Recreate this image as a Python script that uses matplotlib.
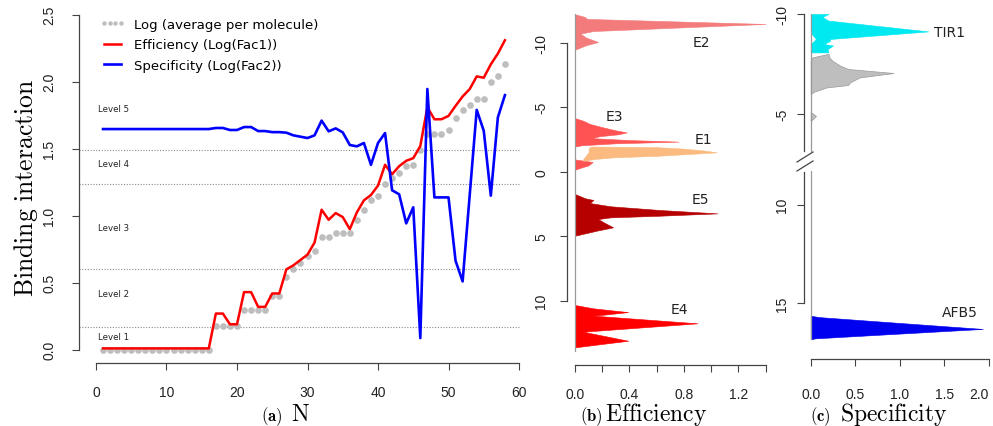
import numpy as np
import matplotlib
matplotlib.use('Agg')
import matplotlib.pyplot as plt
from matplotlib.lines import Line2D
from matplotlib.transforms import ScaledTranslation

plt.rcParams['font.family'] = 'DejaVu Sans'
plt.rcParams['mathtext.fontset'] = 'cm'
plt.rcParams['axes.unicode_minus'] = False

# ---------------- panel (a): binding interaction vs N ----------------
n_mol = list(range(1, 59))
log_avg = [0.0] * 16 + [0.175, 0.175, 0.175, 0.175, 0.30, 0.30, 0.30, 0.30,
           0.40, 0.40, 0.54, 0.60, 0.65, 0.70, 0.74, 0.84, 0.84, 0.87, 0.87,
           0.87, 0.97, 1.04, 1.12, 1.145, 1.24, 1.28, 1.32, 1.37, 1.38, 1.49,
           1.61, 1.61, 1.61, 1.64, 1.73, 1.79, 1.83, 1.87, 1.875, 2.0, 2.045,
           2.13]
eff_log = [0.01] * 16 + [0.27, 0.27, 0.19, 0.19, 0.43, 0.43, 0.32, 0.32,
           0.42, 0.42, 0.60, 0.63, 0.67, 0.71, 0.80, 1.045, 0.97, 1.02, 0.99,
           0.90, 1.025, 1.115, 1.155, 1.225, 1.38, 1.31, 1.37, 1.41, 1.43,
           1.52, 1.81, 1.72, 1.72, 1.745, 1.82, 1.89, 1.945, 2.04, 2.03, 2.13,
           2.21, 2.31]
spec_log = [1.647] * 16 + [1.655, 1.655, 1.64, 1.64, 1.662, 1.662, 1.632,
            1.632, 1.624, 1.624, 1.62, 1.60, 1.59, 1.58, 1.60, 1.71, 1.63,
            1.652, 1.622, 1.528, 1.518, 1.543, 1.38, 1.543, 1.617, 1.19, 1.16,
            0.943, 1.063, 0.087, 1.946, 1.137, 1.137, 1.137, 0.664, 0.51,
            1.15, 1.79, 1.634, 1.15, 1.734, 1.90]
level_bounds = [0.17, 0.60, 1.24, 1.49]
level_names = ['Level 1', 'Level 2', 'Level 3', 'Level 4', 'Level 5']
level_text_y = [0.10, 0.42, 0.91, 1.39, 1.80]

# ---------------- panel (b): efficiency profiles ----------------
e2_y = [-12.2, -12.0, -11.84, -11.45, -10.9, -10.7, -10.4, -10.05, -9.8, -9.45]
e2_x = [0.0, 0.07, 0.09, 1.4, 0.135, 0.04, 0.08, 0.17, 0.08, 0.0]
e3_y = [-4.15, -3.95, -3.7, -3.45, -3.2, -3.05, -2.9, -2.75, -2.6, -2.45,
        -2.33, -2.2, -2.05, -1.95, -0.95, -0.75, -0.5, -0.3, -0.15]
e3_x = [0.0, 0.06, 0.11, 0.2, 0.3, 0.38, 0.32, 0.18, 0.12, 0.4, 0.76, 0.3,
        0.05, 0.0, 0.0, 0.13, 0.1, 0.04, 0.0]
e1_y = [-1.95, -1.9, -1.8, -1.65, -1.5, -1.38, -1.24, -1.11, -0.98, -0.85]
e1_left = [0.12, 0.11, 0.1, 0.1, 0.1, 0.09, 0.08, 0.07, 0.06, 0.06]
e1_right = [0.13, 0.6, 0.78, 0.94, 1.04, 0.85, 0.62, 0.28, 0.14, 0.07]
e5_y = [1.73, 2.06, 2.19, 2.43, 2.68, 2.97, 3.23, 3.41, 3.54, 3.67, 3.92,
        4.31, 4.57, 4.96]
e5_x = [0.0, 0.074, 0.135, 0.11, 0.26, 0.625, 1.046, 0.625, 0.26, 0.17, 0.21,
        0.28, 0.16, 0.0]
e4_y = [10.33, 10.59, 10.88, 11.16, 11.75, 12.40, 13.10, 13.61]
e4_x = [0.0, 0.135, 0.39, 0.14, 0.90, 0.06, 0.39, 0.0]

# ---------------- panel (c): specificity profiles ----------------
tir1_y = [-10.0, -9.85, -9.67, -9.4, -9.13, -8.95, -8.75, -8.67, -8.5, -8.42,
          -8.25, -8.08]
tir1_left = [0.0, 0.0, 0.0, 0.0, 0.0, 0.02, 0.06, 0.04, 0.0, 0.0, 0.0, 0.0]
tir1_right = [0.2, 0.13, 0.2, 0.76, 1.32, 0.8, 0.217, 0.22, 0.15, 0.25, 0.19,
              0.2]
grey_y = [-8.0, -7.83, -7.67, -7.42, -7.25, -7.05, -6.83, -6.58, -6.45, -6.33,
          -6.12, -6.0]
grey_left = [0.19, 0.02, 0, 0, 0, 0, 0, 0, 0, 0, 0, 0]
grey_right = [0.2, 0.21, 0.24, 0.33, 0.42, 0.93, 0.55, 0.44, 0.42, 0.18, 0.04,
              0.0]
grey2_y = [-5.1, -4.9, -4.65]
grey2_x = [0.0, 0.06, 0.0]
afb5_y = [15.65, 15.72, 16.0, 16.32, 16.6, 16.8, 16.85]
afb5_x = [0.0, 0.1, 0.95, 1.93, 0.83, 0.05, 0.0]

W, H = 993.0, 427.0
def fbox(l, t, r, b):
    return [l / W, 1 - b / H, (r - l) / W, (b - t) / H]

spine_col = '#444444'
tick_font = dict(fontfamily='Liberation Sans', fontsize=10, color='#222222')

fig = plt.figure(figsize=(9.93, 4.27), dpi=100)

def style(ax, sides=('left', 'bottom')):
    for s in ['top', 'right', 'left', 'bottom']:
        ax.spines[s].set_visible(s in sides)
        ax.spines[s].set_color(spine_col)
        ax.spines[s].set_linewidth(0.9)
    ax.tick_params(length=5, width=0.8, color=spine_col)

# ---- (a)
ax = fig.add_axes(fbox(79, 10, 520, 364))
style(ax)
ax.set_xlim(-2.41, 60.14)
ax.set_ylim(-0.099, 2.543)
ax.spines['left'].set_bounds(0, 2.5)
ax.spines['bottom'].set_bounds(0, 60)
for yb in level_bounds:
    ax.axhline(yb, color='#8a8a8a', lw=0.8, ls=(0, (1, 1.5)))
for name, yl in zip(level_names, level_text_y):
    ax.text(0.3, yl, name, fontsize=6.2, va='center', ha='left', color='#222222')
ax.plot(n_mol, log_avg, 'o', color='#BEBEBE', ms=4.8, mec='none')
ax.plot(n_mol, eff_log, color='#FF0000', lw=1.8)
ax.plot(n_mol, spec_log, color='#0000FF', lw=1.9)
ax.set_xticks([0, 10, 20, 30, 40, 50, 60])
ax.set_xticklabels(['0', '10', '20', '30', '40', '50', '60'], **tick_font)
ax.set_yticks([0.0, 0.5, 1.0, 1.5, 2.0, 2.5])
ax.set_yticklabels(['0.0', '0.5', '1.0', '1.5', '2.0', '2.5'], rotation=90,
                   va='center', **tick_font)
ax.tick_params(axis='x', pad=11)
ax.tick_params(axis='y', pad=11.5)
handles = [Line2D([], [], color='#BEBEBE', marker='o', ls='None', ms=3.2, mec='none'),
           Line2D([], [], color='#FF0000', lw=1.8),
           Line2D([], [], color='#0000FF', lw=1.9)]
ax.legend(handles, ['Log (average per molecule)', 'Efficiency (Log(Fac1))',
                    'Specificity (Log(Fac2))'],
          loc='upper left', bbox_to_anchor=(100 / W, 1 - 19 / H),
          bbox_transform=fig.transFigure, frameon=False, borderpad=0,
          borderaxespad=0, numpoints=4, handlelength=1.9, handletextpad=0.7,
          labelspacing=0.55, fontsize=9.5)

# ---- (b)
bx = fig.add_axes(fbox(567, 15, 770, 366))
style(bx)
bx.set_xlim(-0.0587, 1.432)
bx.set_ylim(14.98, -12.22)
bx.spines['left'].set_bounds(-10, 10)
bx.spines['bottom'].set_bounds(0, 1.4)
bx.axvline(0, ymin=0.04, ymax=1, color='#999999', lw=0.9)
bx.fill_betweenx(e2_y, 0, e2_x, color='#F37B7B', lw=0.4)
bx.fill_betweenx(e3_y, 0, e3_x, color='#FF5252', lw=0.4)
bx.fill_betweenx(e1_y, e1_left, e1_right, color='#FBBA80', lw=0.4)
bx.fill_betweenx(e5_y, 0, e5_x, color='#B60000', lw=0.4)
bx.fill_betweenx(e4_y, 0, e4_x, color='#FF0000', lw=0.4)
for lab, lx, ly in [('E2', 0.925, -10.03), ('E3', 0.286, -4.32), ('E1', 0.94, -2.53),
                    ('E5', 0.92, 2.12), ('E4', 0.766, 10.64)]:
    bx.text(lx, ly, lab, fontsize=10, ha='center', va='center', color='#222222')
bx.set_xticks([0.0, 0.2, 0.4, 0.6, 0.8, 1.0, 1.2, 1.4])
bx.set_xticklabels(['0.0', '', '0.4', '', '0.8', '', '1.2', ''], **tick_font)
bx.set_yticks([-10, -5, 0, 5, 10])
bx.set_yticklabels(['-10', '-5', '0', '5', '10'], rotation=90, va='center',
                   **tick_font)
bx.tick_params(axis='x', pad=11)
bx.tick_params(axis='y', pad=8.5)

# ---- (c) broken y axis: two stacked axes
cx1 = fig.add_axes(fbox(804, 15, 993, 155))
cx2 = fig.add_axes(fbox(804, 168, 993, 360))
style(cx1, sides=('left',))
style(cx2)
for c in (cx1, cx2):
    c.set_xlim(-0.075, 2.044)
cx1.set_ylim(-3.0, -10.0)
cx2.set_ylim(17.85, 8.08)
cx1.spines['left'].set_bounds(-10, -3.15)
cx2.spines['left'].set_bounds(8.35, 15)
cx2.spines['bottom'].set_bounds(0, 2)
cx1.axvline(0, ymin=3 / 140, ymax=1, color='#999999', lw=0.9)
cx2.axvline(0, ymin=20 / 192, ymax=0.98, color='#999999', lw=0.9)
cx1.fill_betweenx(tir1_y, tir1_left, tir1_right, color='#00E8F0', lw=0.4)
cx1.fill_betweenx(grey_y, grey_left, grey_right, color='#BEBEBE',
                  edgecolor='#9a9a9a', lw=0.5)
cx1.fill_betweenx(grey2_y, 0, grey2_x, color='#BEBEBE', edgecolor='#9a9a9a', lw=0.5)
cx2.fill_betweenx(afb5_y, 0, afb5_x, color='#0000F0', lw=0.4)
cx1.text(1.56, -9.08, 'TIR1', fontsize=10, ha='center', va='center', color='#222222')
cx2.text(1.67, 15.47, 'AFB5', fontsize=10, ha='center', va='center', color='#222222')
cx1.set_xticks([])
cx1.set_yticks([-10, -5])
cx1.set_yticklabels(['-10', '-5'], rotation=90, va='center', **tick_font)
shift = ScaledTranslation(0, -10 / 100, fig.dpi_scale_trans)
top_lab = cx1.get_yticklabels()[0]
top_lab.set_transform(top_lab.get_transform() + shift)
cx2.set_yticks([10, 15])
cx2.set_yticklabels(['10', '15'], rotation=90, va='center', **tick_font)
cx2.set_xticks([0.0, 0.5, 1.0, 1.5, 2.0])
cx2.set_xticklabels(['0.0', '0.5', '1.0', '1.5', '2.0'], **tick_font)
# R pulls the last label inside the device edge
last_lab = cx2.get_xticklabels()[-1]
last_lab.set_ha('right')
last_lab.set_transform(last_lab.get_transform() +
                       ScaledTranslation(3 / 100, 0, fig.dpi_scale_trans))
cx1.tick_params(axis='y', pad=5.5)
cx2.tick_params(axis='y', pad=5.5)
cx2.tick_params(axis='x', pad=15)

# break marks on the specificity axis
for y0 in (163, 172):
    fig.add_artist(Line2D([797 / W, 813 / W], [1 - y0 / H, 1 - (y0 - 10) / H],
                          transform=fig.transFigure, color=spine_col, lw=0.9))

# ---- axis titles
fig.text(26 / W, 1 - 187.5 / H, r'$\mathrm{Binding\ interaction}$', rotation=90,
         ha='center', va='center', fontsize=18.5)
base = 1 - 421 / H
for tag, tx, word, wx in [(r'$\mathbf{(a)}$', 261, r'$\mathrm{N}$', 291),
                          (r'$\mathbf{(b)}$', 580, r'$\mathrm{Efficiency}$', 605),
                          (r'$\mathbf{(c)}$', 810, r'$\mathrm{Specificity}$', 840)]:
    fig.text(tx / W, base, tag, fontsize=12, ha='left', va='baseline')
    fig.text(wx / W, base, word, fontsize=17, ha='left', va='baseline')

fig.savefig('out.png', dpi=100)
